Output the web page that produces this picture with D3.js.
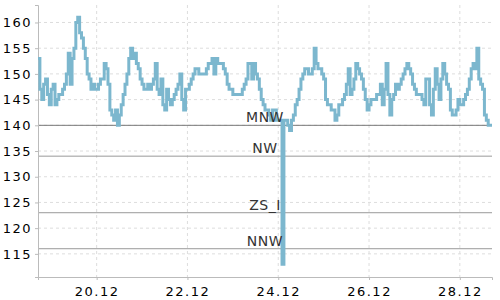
<!DOCTYPE html>
<html>
<head>
<meta charset="utf-8">
<script src="https://cdn.jsdelivr.net/npm/d3@7/dist/d3.min.js"></script>
<style>
  body { margin: 0; background: #fff; }
  text { font-family: "DejaVu Sans", sans-serif; }
</style>
</head>
<body>
<svg id="chart" width="500" height="300"></svg>
<script>
// hourly water level readings from 18.12 17:00
const START = new Date(2023, 11, 18, 17, 0);
const STEP_HOURS = 1;
const LEVELS = [
    153, 147, 145, 148, 149, 146, 144, 147, 148, 144,
    145, 146, 146, 147, 148, 150, 154, 148, 153, 155,
    160, 161, 158, 157, 155, 153, 150, 149, 147, 148,
    147, 147, 148, 149, 149, 152, 151, 148, 143, 142,
    141, 143, 140, 142, 144, 146, 148, 150, 153, 155,
    153, 154, 152, 151, 149, 148, 147, 147, 148, 147,
    148, 149, 152, 147, 146, 149, 144, 143, 147, 145,
    144, 145, 146, 147, 148, 150, 145, 143, 147, 147,
    148, 149, 150, 151, 151, 150, 150, 150, 150, 151,
    152, 152, 153, 150, 153, 152, 152, 152, 151, 150,
    148, 147, 147, 146, 146, 146, 146, 146, 147, 148,
    149, 152, 152, 149, 152, 150, 149, 147, 145, 144,
    143, 143, 142, 141, 143, 143, 141, 141, 141, 113,
    141, 141, 140, 139, 141, 142, 144, 145, 147, 149,
    150, 151, 151, 150, 150, 151, 155, 152, 151, 151,
    150, 149, 145, 144, 144, 143, 143, 141, 142, 144,
    144, 145, 146, 148, 151, 146, 147, 149, 152, 151,
    150, 149, 147, 145, 143, 144, 145, 145, 145, 146,
    146, 148, 144, 147, 152, 146, 142, 145, 146, 148,
    147, 148, 149, 150, 151, 152, 151, 150, 148, 147,
    146, 146, 146, 145, 144, 149, 149, 144, 142, 147,
    151, 148, 145, 149, 152, 150, 148, 147, 143, 142,
    142, 143, 145, 144, 144, 145, 146, 147, 149, 151,
    152, 151, 155, 149, 148, 147, 142, 141, 140, 140,
    140
];
const TICK_DAYS = [20, 22, 24, 26, 28];
const Y_TICKS = [115, 120, 125, 130, 135, 140, 145, 150, 155, 160];
const REF_NAMES = ["MNW", "NW", "ZS_I", "NNW"];
const REF_VALUES = [140, 134, 123, 116];

const WIDTH = 500,
      HEIGHT = 300;
const MARGIN = { top: 5, right: 8, bottom: 23, left: 38 };

let data = LEVELS.map((v, i) => ({
    t: d3.timeHour.offset(START, i * STEP_HOURS),
    v: v
}));

let svg = d3.select("#chart");

let x = d3.scaleTime()
    .domain([data[0].t, data[data.length - 1].t])
    .range([MARGIN.left, WIDTH - MARGIN.right]);

let y = d3.scaleLinear()
    .domain([110.5, 163.4])
    .range([HEIGHT - MARGIN.bottom, MARGIN.top]);

let tickDates = TICK_DAYS.map(d => new Date(2023, 11, d));

// grid
svg.append("g")
    .selectAll("line")
    .data(Y_TICKS)
    .join("line")
    .attr("x1", MARGIN.left)
    .attr("x2", WIDTH - MARGIN.right)
    .attr("y1", d => y(d))
    .attr("y2", d => y(d))
    .attr("stroke", "#ddd")
    .attr("stroke-dasharray", "3,3");

svg.append("g")
    .selectAll("line")
    .data(tickDates)
    .join("line")
    .attr("x1", d => x(d))
    .attr("x2", d => x(d))
    .attr("y1", MARGIN.top)
    .attr("y2", HEIGHT - MARGIN.bottom)
    .attr("stroke", "#ddd")
    .attr("stroke-dasharray", "3,3");

// reference levels
svg.append("g")
    .selectAll("line")
    .data(REF_VALUES)
    .join("line")
    .attr("x1", MARGIN.left)
    .attr("x2", WIDTH - MARGIN.right)
    .attr("y1", d => y(d))
    .attr("y2", d => y(d))
    .attr("stroke", (d, i) => i === 0 ? "#777" : "#999")
    .attr("stroke-width", 1);

// axes
let xAxis = svg.append("g")
    .attr("transform", `translate(0,${HEIGHT - MARGIN.bottom})`)
    .call(d3.axisBottom(x)
        .tickValues(tickDates)
        .tickFormat(d3.timeFormat("%d.%m"))
        .tickSize(3)
        .tickPadding(7));

let yAxis = svg.append("g")
    .attr("transform", `translate(${MARGIN.left},0)`)
    .call(d3.axisLeft(y)
        .tickValues(Y_TICKS)
        .tickSize(3)
        .tickPadding(3));

[xAxis, yAxis].forEach(a => {
    a.select(".domain").attr("stroke", "#bbb");
    a.selectAll(".tick line").attr("stroke", "#bbb");
    a.selectAll(".tick text")
        .attr("font-family", "DejaVu Sans, sans-serif")
        .attr("font-size", 13)
        .attr("letter-spacing", "1.5px")
        .attr("fill", "#000");
});

// level series
let line = d3.line()
    .x(d => x(d.t))
    .y(d => y(d.v))
    .curve(d3.curveStepAfter);

svg.append("path")
    .datum(data)
    .attr("d", line)
    .attr("fill", "none")
    .attr("stroke", "#7cb7ce")
    .attr("stroke-width", 3);

// reference labels
let labelX = x(d3.timeHour.offset(new Date(2023, 11, 24), -7));
svg.append("g")
    .selectAll("text")
    .data(REF_VALUES)
    .join("text")
    .attr("x", labelX)
    .attr("y", d => y(d) - 3)
    .attr("text-anchor", "middle")
    .attr("font-size", 14)
    .attr("letter-spacing", "0.5px")
    .attr("fill", "#333")
    .text((d, i) => REF_NAMES[i]);
</script>
</body>
</html>
